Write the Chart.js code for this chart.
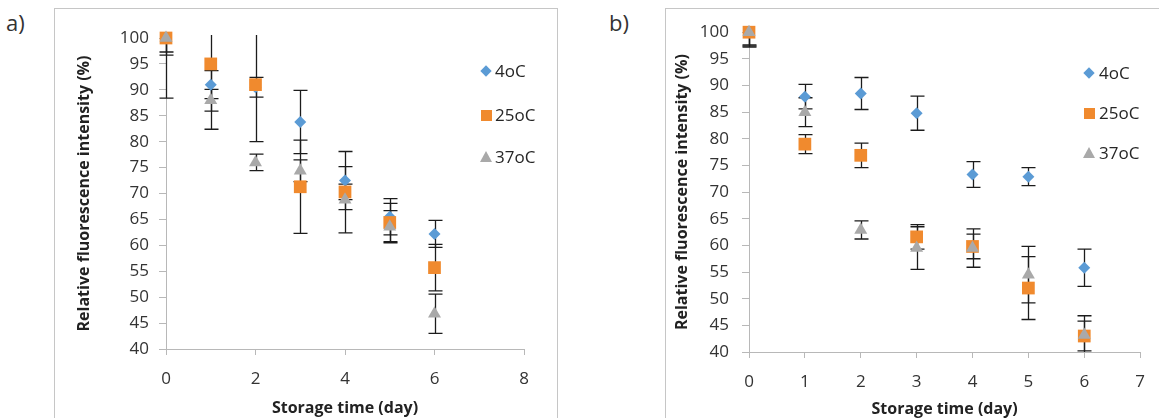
<!DOCTYPE html>
<html>
<head>
<meta charset="utf-8">
<script src="https://cdn.jsdelivr.net/npm/chart.js@4.4.1/dist/chart.umd.min.js"></script>
<style>
  body { margin: 0; background: #fff; width: 1159px; height: 418px; overflow: hidden; position: relative;
         font-family: "Open Sans", sans-serif; color: #262626; }
  .frame { position: absolute; border: 1px solid #c6c6c6; box-sizing: border-box; }
  #frameA { left: 54px; top: 8px; width: 504px; height: 440px; }
  #frameB { left: 665px; top: 8px; width: 520px; height: 440px; }
  .tag { position: absolute; font-size: 22px; line-height: 26px; color: #333; }
  canvas { position: absolute; }
  #chartA { left: 55px; top: 9px; }
  #chartB { left: 666px; top: 9px; }
  .leg-text { position: absolute; font-size: 17px; line-height: 20px; color: #262626; white-space: nowrap; }
  .leg-mark { position: absolute; }
</style>
</head>
<body>
<div class="frame" id="frameA"></div>
<div class="frame" id="frameB"></div>
<div class="tag" style="left:6px;top:9px">a)</div>
<div class="tag" style="left:609px;top:9px">b)</div>
<canvas id="chartA" width="502" height="409"></canvas>
<canvas id="chartB" width="493" height="409"></canvas>
<div id="legends"></div>

<script>
// data
const days = [0, 1, 2, 3, 4, 5, 6];
const seriesNames = ["4oC", "25oC", "37oC"];

// panel a)
const a4C   = [100, 91.0, 90.5, 83.8, 72.5, 65.5, 62.2];
const a4Err = [3.3, 2.7, 1.9, 6.1, 5.6, 3.5, 2.6];
const a25C   = [100, 95.0, 91.0, 71.3, 70.3, 64.4, 55.7];
const a25Err = [2.7, 12.6, 11.0, 9.0, 1.5, 3.7, 4.5];
const a37C   = [100, 88.0, 76.0, 74.4, 68.8, 63.6, 46.8];
const a37Err = [11.6, 2.1, 1.6, 2.1, 6.4, 3.1, 3.8];

// panel b)
const b4C   = [100, 87.9, 88.5, 84.8, 73.3, 72.9, 55.8];
const b4Err = [2.6, 2.3, 3.0, 3.2, 2.4, 1.7, 3.5];
const b25C   = [100, 79.0, 76.9, 61.6, 59.8, 52.0, 43.0];
const b25Err = [2.8, 1.8, 2.3, 2.3, 2.3, 5.9, 2.8];
const b37C   = [100, 85.0, 62.9, 59.5, 59.5, 54.5, 43.2];
const b37Err = [2.4, 2.7, 1.7, 4.0, 3.6, 5.3, 3.6];

const yTitle = "Relative fluorescence intensity (%)";
const xTitle = "Storage time (day)";

const colors = ["#5B9BD5", "#F08A2E", "#A9A9A9"];
const styles = ["rectRot", "rect", "triangle"];
const radii = [6, 9, 7.5];
const axisGray = "#b8b8b8";

/* error bars, drawn under the markers */
const errorBars = {
  id: "errorBars",
  beforeDatasetsDraw(chart) {
    const { ctx, chartArea: area, scales: { x, y } } = chart;
    ctx.save();
    ctx.beginPath();
    ctx.rect(area.left - 12, area.top - 3, area.width + 24, area.height + 3);
    ctx.clip();
    ctx.strokeStyle = "#1c1c1c";
    ctx.lineWidth = 1.3;
    chart.data.datasets.forEach(ds => {
      ds.data.forEach((p, i) => {
        const e = ds.errors[i];
        const px = Math.round(x.getPixelForValue(p.x)) + 0.5;
        const hi = y.getPixelForValue(p.y + e);
        const lo = y.getPixelForValue(p.y - e);
        ctx.beginPath();
        ctx.moveTo(px, hi); ctx.lineTo(px, lo);
        ctx.moveTo(px - 7, hi); ctx.lineTo(px + 7, hi);
        ctx.moveTo(px - 7, lo); ctx.lineTo(px + 7, lo);
        ctx.stroke();
      });
    });
    ctx.restore();
  }
};

function makeSets(values, errors) {
  return values.map((vals, k) => ({
    label: seriesNames[k],
    data: days.map((d, i) => ({ x: d, y: vals[i] })),
    errors: errors[k],
    pointStyle: styles[k],
    pointRadius: radii[k],
    pointBackgroundColor: colors[k],
    pointBorderWidth: 0,
    showLine: false,
    clip: false,
    order: 3 - k
  }));
}

function makeChart(id, sets, o) {
  new Chart(document.getElementById(id), {
    type: "scatter",
    data: { datasets: sets },
    plugins: [errorBars],
    options: {
      responsive: false,
      animation: false,
      events: [],
      layout: { padding: { top: o.top, right: o.right, left: 0, bottom: 0 } },
      plugins: { legend: { display: false }, tooltip: { enabled: false } },
      scales: {
        x: {
          min: 0, max: o.xMax,
          afterFit: s => { s.height = o.xHeight; },
          ticks: { stepSize: o.xStep, color: "#333", padding: o.xPad, font: { family: "Open Sans", size: 17 } },
          grid: { drawOnChartArea: false, color: axisGray, tickLength: 6 },
          border: { color: axisGray, width: 1 },
          title: { display: true, text: xTitle, color: "#222", padding: { top: 0, bottom: o.xTitlePad },
                   font: { family: "Open Sans", size: 16, weight: "bold" } }
        },
        y: {
          min: 40, max: 100,
          afterFit: s => { s.width = o.yWidth; },
          ticks: { stepSize: 5, color: "#333", padding: o.yPad, font: { family: "Open Sans", size: 17 } },
          grid: { drawOnChartArea: false, color: axisGray, tickLength: 7 },
          border: { color: axisGray, width: 1 },
          title: { display: true, text: yTitle, color: "#222", padding: { top: o.yTitlePad, bottom: 0 },
                   font: { family: "Open Sans", size: 16, weight: "bold" } }
        }
      }
    }
  });
}

makeChart("chartA", makeSets([a4C, a25C, a37C], [a4Err, a25Err, a37Err]),
  { top: 29, right: 33, xMax: 8, xStep: 2, xHeight: 69, yWidth: 111, yPad: 10, xPad: 14,
    xTitlePad: 0, yTitlePad: 20 });
makeChart("chartB", makeSets([b4C, b25C, b37C], [b4Err, b25Err, b37Err]),
  { top: 21, right: 10, xMax: 7, xStep: 1, xHeight: 66, yWidth: 83, yPad: 13, xPad: 14,
    xTitlePad: -1, yTitlePad: 7 });

/* legends, as html */
function legend(markX, textX, rows) {
  const box = document.getElementById("legends");
  rows.forEach((cy, k) => {
    const m = document.createElement("div");
    m.className = "leg-mark";
    if (k === 0) {
      Object.assign(m.style, { width: "8px", height: "8px", left: (markX - 4) + "px", top: (cy - 4) + "px",
        background: colors[0], transform: "rotate(45deg)" });
    } else if (k === 1) {
      Object.assign(m.style, { width: "11px", height: "11px", left: (markX - 5.5) + "px", top: (cy - 5.5) + "px",
        background: colors[1] });
    } else {
      Object.assign(m.style, { width: 0, height: 0, left: (markX - 6) + "px", top: (cy - 6) + "px",
        borderLeft: "6px solid transparent", borderRight: "6px solid transparent",
        borderBottom: "11px solid " + colors[2] });
    }
    box.appendChild(m);
    const t = document.createElement("div");
    t.className = "leg-text";
    t.textContent = seriesNames[k];
    t.style.left = textX + "px";
    t.style.top = (cy - 10.5) + "px";
    box.appendChild(t);
  });
}
legend(486, 495, [71, 115, 157]);
legend(1089, 1099, [73, 113, 153]);
</script>
</body>
</html>
